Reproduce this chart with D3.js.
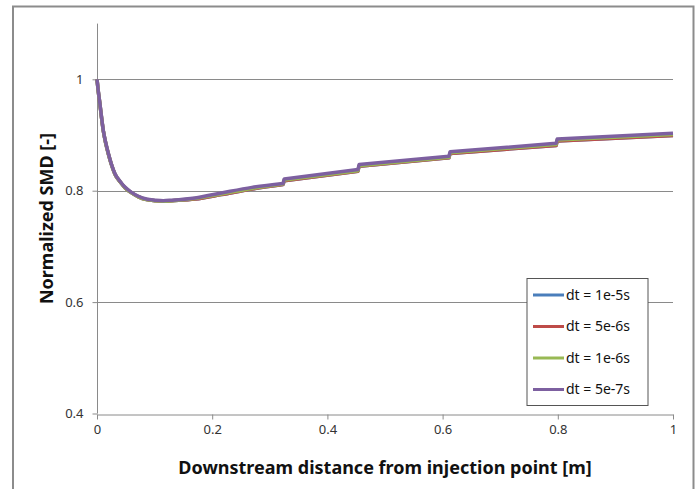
<!DOCTYPE html>
<html>
<head>
<meta charset="utf-8">
<script src="https://cdn.jsdelivr.net/npm/d3@7"></script>
<style>
  body { margin: 0; background: #fff; }
  svg { display: block; font-family: "Noto Sans", "Open Sans", sans-serif; }
</style>
</head>
<body>
<svg id="chart" width="698" height="489"></svg>
<script>
// distances along the spray [m]
const distance = [0, 0.002, 0.005, 0.008, 0.011, 0.015, 0.02, 0.025, 0.031, 0.04, 0.049, 0.06, 0.072, 0.086, 0.101,
  0.115, 0.13, 0.17, 0.216, 0.269, 0.323, 0.325, 0.453, 0.455, 0.611, 0.613, 0.797, 0.799, 1.0];

// normalized SMD per time step
const smd_1e5 = [1.0, 0.980, 0.956, 0.930, 0.907, 0.886, 0.865, 0.847, 0.830, 0.816, 0.805, 0.796, 0.789, 0.784, 0.782,
  0.781, 0.782, 0.785, 0.793, 0.803, 0.811, 0.818, 0.835, 0.844, 0.859, 0.867, 0.881, 0.889, 0.899];
const smd_5e6 = [1.0, 0.980, 0.956, 0.930, 0.907, 0.886, 0.865, 0.847, 0.830, 0.816, 0.805, 0.796, 0.789, 0.784, 0.782,
  0.781, 0.782, 0.785, 0.793, 0.803, 0.811, 0.818, 0.835, 0.844, 0.859, 0.867, 0.881, 0.889, 0.899];
const smd_1e6 = [1.0, 0.980, 0.956, 0.930, 0.907, 0.886, 0.865, 0.847, 0.830, 0.816, 0.805, 0.796, 0.789, 0.784, 0.782,
  0.781, 0.782, 0.786, 0.794, 0.804, 0.812, 0.819, 0.836, 0.845, 0.860, 0.868, 0.883, 0.891, 0.901];
const smd_5e7 = [1.0, 0.981, 0.957, 0.931, 0.908, 0.887, 0.866, 0.848, 0.831, 0.817, 0.806, 0.797, 0.790, 0.785, 0.783,
  0.782, 0.783, 0.787, 0.796, 0.806, 0.813, 0.821, 0.838, 0.847, 0.862, 0.870, 0.885, 0.893, 0.903];

const seriesNames = ["dt = 1e-5s", "dt = 5e-6s", "dt = 1e-6s", "dt = 5e-7s"];
const seriesColors = ["#4a7ebb", "#be4b48", "#98b954", "#7d60a0"];
const xTicks = [0, 0.2, 0.4, 0.6, 0.8, 1];
const yTicks = [0.4, 0.6, 0.8, 1];

const svg = d3.select("#chart");
const plot = { left: 97, right: 673, top: 23.6, bottom: 413.5 };

const x = d3.scaleLinear().domain([0, 1]).range([plot.left, plot.right]);
const y = d3.scaleLinear().domain([0.4, 1.1]).range([plot.bottom, plot.top]);

// outer chart border (no bottom edge visible)
svg.append("path")
  .attr("d", "M13,489 V6.5 H693.5 V489")
  .attr("fill", "none")
  .attr("stroke", "#8c8c8c")
  .attr("stroke-width", 2);

// horizontal gridlines
svg.append("g")
  .selectAll("line")
  .data(yTicks.filter(d => d > 0.4))
  .join("line")
  .attr("x1", plot.left).attr("x2", plot.right)
  .attr("y1", d => Math.round(y(d)) + 0.5).attr("y2", d => Math.round(y(d)) + 0.5)
  .attr("stroke", "#8a8a8a");

// y axis
const yAxis = svg.append("g")
  .attr("transform", `translate(${plot.left + 0.5},0)`)
  .call(d3.axisLeft(y).tickValues(yTicks).tickSize(5).tickSizeOuter(0).tickFormat(d3.format("")));
yAxis.select(".domain").attr("stroke", "#8a8a8a").attr("d", `M0,${plot.top}V${plot.bottom}`);
yAxis.selectAll(".tick line").attr("stroke", "#8a8a8a");
yAxis.selectAll(".tick text").attr("x", -14).attr("font-size", 13).attr("fill", "#333")
  .style("font-family", "'Noto Sans', sans-serif");

// x axis
const xAxis = svg.append("g")
  .attr("transform", `translate(0,${Math.round(plot.bottom) + 0.5})`)
  .call(d3.axisBottom(x).tickValues(xTicks).tickSize(5).tickSizeOuter(0).tickFormat(d3.format("")));
xAxis.select(".domain").attr("stroke", "#8a8a8a");
xAxis.selectAll(".tick line").attr("stroke", "#8a8a8a");
xAxis.selectAll(".tick text").attr("y", 10).attr("font-size", 13).attr("fill", "#333")
  .style("font-family", "'Noto Sans', sans-serif");

// series lines: smooth through the initial drop, straight between the steps
const allSeries = [smd_1e5, smd_5e6, smd_1e6, smd_5e7];
const smoothEnd = distance.indexOf(0.323);
const smooth = d3.line().x(d => x(d[0])).y(d => y(d[1])).curve(d3.curveMonotoneX);
const straight = d3.line().x(d => x(d[0])).y(d => y(d[1]));
function seriesPath(vals) {
  const pts = vals.map((v, i) => [distance[i], v]);
  const head = smooth(pts.slice(0, smoothEnd + 1));
  const tail = straight(pts.slice(smoothEnd)).replace(/^M/, "L");
  return head + tail;
}
svg.append("g")
  .selectAll("path")
  .data(allSeries)
  .join("path")
  .attr("d", d => seriesPath(d))
  .attr("fill", "none")
  .attr("stroke", (d, i) => seriesColors[i])
  .attr("stroke-width", 3.5)
  .attr("stroke-linejoin", "round");

// legend
const legend = svg.append("g").attr("transform", "translate(527,278.5)");
legend.append("rect")
  .attr("width", 121).attr("height", 127)
  .attr("fill", "#fff")
  .attr("stroke", "#555");
const rows = legend.selectAll("g.row")
  .data(seriesNames)
  .join("g")
  .attr("class", "row")
  .attr("transform", (d, i) => `translate(0,${16.5 + i * 31.5})`);
rows.append("line")
  .attr("x1", 6).attr("x2", 37)
  .attr("stroke", (d, i) => seriesColors[i])
  .attr("stroke-width", 3);
rows.append("text")
  .attr("x", 39).attr("dy", "0.35em")
  .attr("font-size", 14).attr("fill", "#111")
  .text(d => d);

// axis titles
svg.append("text")
  .attr("x", 385).attr("y", 474)
  .attr("text-anchor", "middle")
  .attr("font-size", 18).attr("font-weight", "bold").attr("fill", "#111")
  .text("Downstream distance from injection point [m]");
svg.append("text")
  .attr("transform", `translate(53,${(plot.top + plot.bottom) / 2}) rotate(-90)`)
  .attr("text-anchor", "middle")
  .attr("font-size", 18).attr("font-weight", "bold").attr("fill", "#111")
  .text("Normalized SMD [-]");
</script>
</body>
</html>
